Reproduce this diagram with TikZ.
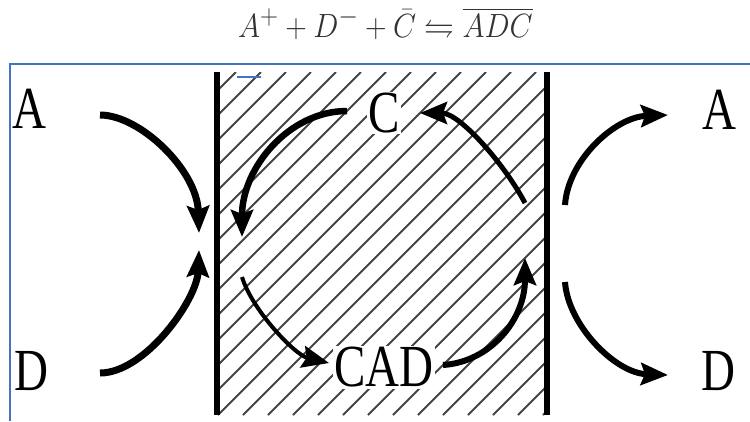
\documentclass[tikz,border=0pt]{standalone}
\usepackage{amsmath,amssymb}
\usepackage{fontspec}
\newfontfamily\tnr{Liberation Serif}
\usetikzlibrary{arrows.meta}
\definecolor{frameblue}{HTML}{4472C4}
\definecolor{hatchgray}{HTML}{444444}
\definecolor{eqgray}{HTML}{333333}
\tikzset{
  lbl/.style={inner sep=0pt,font=\tnr\fontsize{47}{47}\selectfont},
  arr/.style={line width=#1,-{Stealth[length=27pt,width=22pt,inset=4pt]}},
  arr/.default=6.5pt,
  membrane/.style={line width=6.5pt},
  hatch/.style={line width=1.8pt,hatchgray},
}
\newcommand{\tall}[1]{\scalebox{1}[1.27]{#1}}
\begin{document}
\begin{tikzpicture}[x=1pt,y=-1pt]
\useasboundingbox (0,0) rectangle (750,421);
% equation
\node[anchor=base,inner sep=0pt,font=\Huge,text=eqgray] (eq) at (385.5,37)
  {\scalebox{1.2}[1.35]{$A^{+}+D^{-}+\bar{C}\leftrightharpoons\overline{ADC}$}};
% frame
\draw[frameblue,line width=2pt] (9.5,421) -- (9.5,63.5) -- (750,63.5);
% hatching
\begin{scope}
  \clip (217,72) rectangle (547,415);
  \foreach \k in {-15,...,14}{
    \draw[hatch] ({243+25*\k},415) -- ({586+25*\k},72);
  }
\end{scope}
\draw[frameblue,line width=2.5pt] (237,77) -- (261,77);
% membranes
\draw[membrane] (217,72) coordinate (m1t) -- (217,415) coordinate (m1b);
\draw[membrane] (547,72) coordinate (m2t) -- (547,415) coordinate (m2b);
% labels
\node[lbl] (Al) at (29.5,108.5) {\tall{A}};
\node[lbl] (Dl) at (31,371) {\tall{D}};
\node[lbl] (Ar) at (719.5,110) {\tall{A}};
\node[lbl] (Dr) at (718.5,371.5) {\tall{D}};
\node[lbl,fill=white,inner sep=1pt] (C) at (384,113) {\tall{C}};
\node[lbl,fill=white,inner sep=1pt] (CAD) at (384,367.5) {\tall{CAD}};
% arrow endpoints
\coordinate (s1) at (100,115);  \coordinate (t1) at (199,233);
\coordinate (s2) at (100,373);  \coordinate (t2) at (199,250);
\coordinate (s3) at (347,111);  \coordinate (t3) at (242,237);
\coordinate (s4) at (525,203);  \coordinate (t4) at (420,113);
\coordinate (s5) at (242,277);  \coordinate (t5) at (329,363);
\coordinate (s6) at (443,365);  \coordinate (t6) at (525,258);
\coordinate (s7) at (565,205);  \coordinate (t7) at (668,115);
\coordinate (s8) at (565,282);  \coordinate (t8) at (668,375);
% arrows
\draw[arr=7pt] (s1) .. controls (140,115) and (197,170) .. (t1);
\draw[arr=7pt] (s2) .. controls (145,373) and (197,300) .. (t2);
\draw[arr=6.5pt] (s3) .. controls (289,111) and (242,168) .. (t3);
\draw[arr=5pt] (s4) .. controls (505,165) and (460,113) .. (t4);
\draw[arr=4pt] (s5) .. controls (252,310) and (295,355) .. (t5);
\draw[arr=6pt] (s6) .. controls (490,362) and (525,320) .. (t6);
\draw[arr=6pt] (s7) .. controls (568,160) and (615,117) .. (t7);
\draw[arr=6pt] (s8) .. controls (568,325) and (615,373) .. (t8);
\end{tikzpicture}
\end{document}
